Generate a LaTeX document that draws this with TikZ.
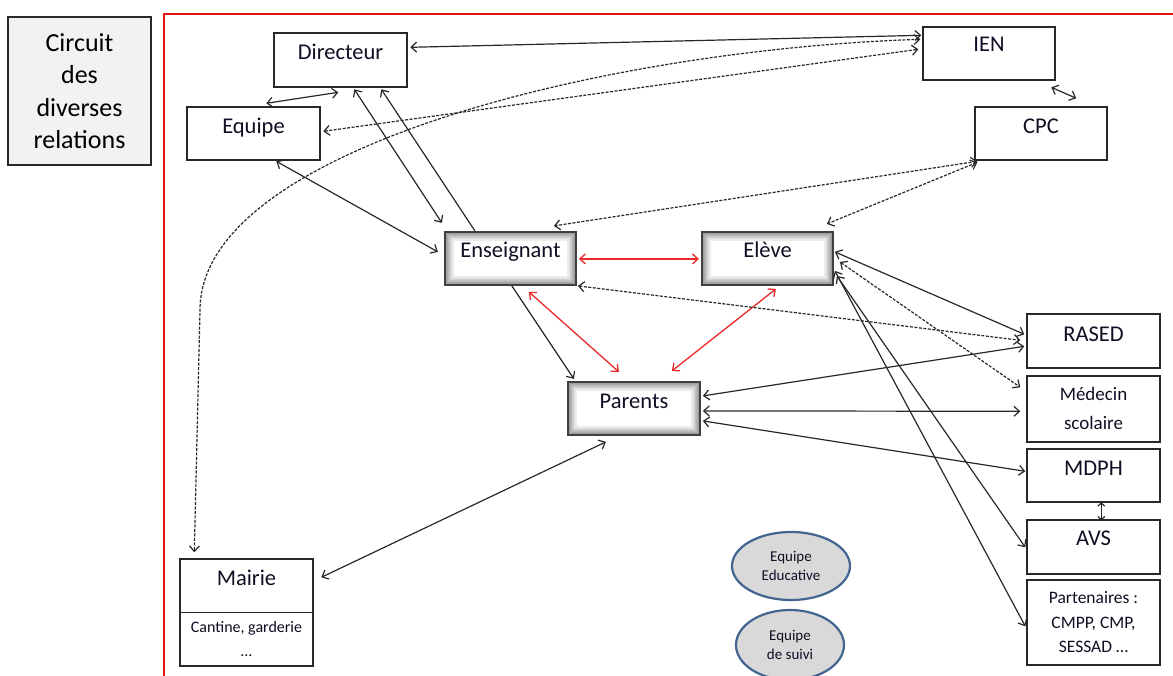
\documentclass[tikz,border=0pt]{standalone}
\usepackage{fontspec}
\setmainfont{Carlito}
\usetikzlibrary{arrows.meta,shapes.geometric,calc}
\definecolor{ln}{RGB}{40,40,40}
\definecolor{framered}{RGB}{225,20,20}
\definecolor{redarr}{RGB}{235,40,40}
\definecolor{ellfill}{RGB}{217,217,217}
\definecolor{elldraw}{RGB}{65,100,145}
\definecolor{titlefill}{RGB}{242,242,242}
\definecolor{txt}{RGB}{15,15,35}
\begin{document}
\begin{tikzpicture}[x=1pt,y=-1pt,
  >={Straight Barb[length=5.5pt,width=10pt]},
  box/.style={draw=ln, line width=1.4pt, fill=white, inner sep=0pt},
  sbox/.style={box, line width=2.2pt, draw=black!75,
    path picture={\foreach \i in {1,...,8}{\pgfmathtruncatemacro\g{48-5*\i}
      \draw[line width=1.1pt, draw=black!\g]
        ([shift={(\i pt,\i pt)}]path picture bounding box.south west) rectangle
        ([shift={(-\i pt,-\i pt)}]path picture bounding box.north east);}}},
  lbl/.style={anchor=north, inner sep=0pt, yshift=-12.5pt, text height=14.5pt,
    font=\fontsize{22.5}{27}\selectfont, text=txt},
  con/.style={line width=1.2pt, draw=ln},
  dsh/.style={con, dash pattern=on 3pt off 1.5pt},
  rcon/.style={line width=1.3pt, draw=redarr},
  ell/.style={ellipse, draw=elldraw, line width=2.2pt, fill=ellfill, inner sep=0pt,
    align=center, font=\fontsize{15}{19.5}\selectfont, text=txt},
  multi/.style={align=center, inner sep=0pt, text=txt}
]
\useasboundingbox (0,0) rectangle (1173,675);
\clip (0,0) rectangle (1173,675);

% red frame
\draw[framered, line width=2pt] (164,690) -- (164,14) -- (1190,14);

% title
\node[draw=ln, line width=1.4pt, fill=titlefill, minimum width=143pt, minimum height=148pt,
  align=center, font=\fontsize{26}{32.3}\selectfont, text=black] (title) at (79.5,91) {Circuit\\des\\diverses\\relations};

% boxes
\node[box, minimum width=133pt, minimum height=54pt, label={[lbl]north:Directeur}] (dir) at (340.5,60) {};
\node[box, minimum width=133pt, minimum height=53pt, label={[lbl]north:Equipe}] (equ) at (253.5,133.5) {};
\node[box, minimum width=132pt, minimum height=53pt, label={[lbl,yshift=2pt]north:IEN}] (ien) at (989,53.5) {};
\node[box, minimum width=132pt, minimum height=53pt, label={[lbl]north:CPC}] (cpc) at (1041,133.5) {};
\node[sbox, minimum width=131pt, minimum height=53pt, label={[lbl,yshift=1pt]north:Enseignant}] (ens) at (510.5,258.5) {};
\node[sbox, minimum width=131pt, minimum height=53pt, label={[lbl,yshift=1pt]north:Elève}] (ele) at (767.5,258.5) {};
\node[sbox, minimum width=132pt, minimum height=53pt, label={[lbl]north:Parents}] (par) at (634,408.5) {};
\node[box, minimum width=133pt, minimum height=54pt, label={[lbl,yshift=-1pt]north:RASED}] (ras) at (1093.5,341) {};
\node[box, minimum width=133pt, minimum height=66pt] (med) at (1093.5,409) {};
\node[multi, font=\fontsize{19}{29}\selectfont] (medtxt) at ($(med.center)+(0,-1)$) {Médecin\\scolaire};
\node[box, minimum width=133pt, minimum height=53pt, label={[lbl]north:MDPH}] (mdph) at (1093.5,475.5) {};
\node[box, minimum width=133pt, minimum height=54pt, label={[lbl,yshift=1pt]north:AVS}] (avs) at (1093.5,547) {};
\node[box, minimum width=133pt, minimum height=85pt] (part) at (1093.5,622.5) {};
\node[multi, font=\fontsize{17.5}{24.5}\selectfont] (parttxt) at (part.center) {Partenaires :\\CMPP, CMP,\\SESSAD …};
\node[box, minimum width=133pt, minimum height=107pt, label={[lbl]north:Mairie}] (mai) at (246.5,612.5) {};
\draw[con, line width=1.4pt] ($(mai.north west)+(0,54)$) -- ($(mai.north east)+(0,54)$);
\node[multi, font=\fontsize{16}{24}\selectfont] (maitxt) at ($(mai.north)+(0,81)$) {Cantine, garderie\\…};

% ellipses
\node[ell, minimum width=118pt, minimum height=68pt] (ell1) at (791,566) {Equipe\\Educative};
\node[ell, minimum width=108pt, minimum height=70pt] (ell2) at (790,645) {Equipe\\de suivi};

% connectors
\draw[con,<->] ($(dir.north west)+(137,15)$) -- ($(ien.north west)+(-1,9)$);
\draw[dsh,<->] ($(equ.north west)+(137,25)$) -- ($(ien.north west)+(-4,23)$);
\draw[dsh,<->] ($(ien.north west)+(-2,13)$) .. controls (600,50) and (200,150) .. (200,310) -- ($(mai.north west)+(15,-6)$);
\draw[con,<->] ($(equ.north west)+(80,-3)$) -- ($(dir.north west)+(65,60)$);
\draw[con,<->] ($(dir.north west)+(81,57)$) -- ($(ens.north west)+(-2,-8)$);
\draw[con,<-] ($(dir.north west)+(108,57)$) -- ($(ens.north west)+(31,0)$);
\draw[con,<->] ($(equ.north west)+(90,55)$) -- ($(ens.north west)+(-6,21)$);
\draw[con,<->] ($(ien.north west)+(129,61)$) -- ($(cpc.north west)+(102,-8)$);
\draw[dsh,<->] ($(cpc.north west)+(3,55)$) -- ($(ens.north west)+(110,-5)$);
\draw[dsh,<->] ($(cpc.north west)+(3,56)$) -- ($(ele.north west)+(126,-7)$);
\draw[rcon,<->] ($(ens.north west)+(135,28)$) -- ($(ele.north west)+(-2,28)$);
\draw[rcon,<->] ($(ens.north west)+(85,61)$) -- ($(par.north west)+(52,-9)$);
\draw[rcon,<->] ($(ele.north west)+(75,58)$) -- ($(par.north west)+(105,-10)$);
\draw[con,->] ($(ens.north west)+(68,55)$) -- ($(par.north west)+(7,-2)$);
\draw[dsh,<->] ($(ens.north west)+(134,55)$) -- ($(ras.north west)+(-6,27)$);
\draw[con,<->] ($(ele.north west)+(134,21)$) -- ($(ras.north west)+(-2,21)$);
\draw[dsh,<->] ($(ele.north west)+(139,31)$) -- ($(med.north west)+(-6,12)$);
\draw[con,<->] ($(par.north west)+(136,15)$) -- ($(ras.north west)+(-2,33)$);
\draw[con,<->] ($(par.north west)+(136,30)$) -- ($(med.north west)+(-6,36)$);
\draw[con,<->] ($(par.north west)+(136,40)$) -- ($(mdph.north west)+(-1,23)$);
\draw[con,<->] ($(ele.north west)+(136,45)$) -- ($(avs.north west)+(-1,28)$);
\draw[con,<->] ($(ele.north west)+(134,40)$) -- ($(part.north west)+(-1,47)$);
\draw[con,<->,>={Straight Barb[length=3pt,width=7pt]}] ($(mdph.north west)+(75,54)$) -- ($(avs.north west)+(75,1)$);
\draw[con,<->] ($(par.north west)+(39,61)$) -- ($(mai.north west)+(142,19)$);
\end{tikzpicture}
\end{document}
